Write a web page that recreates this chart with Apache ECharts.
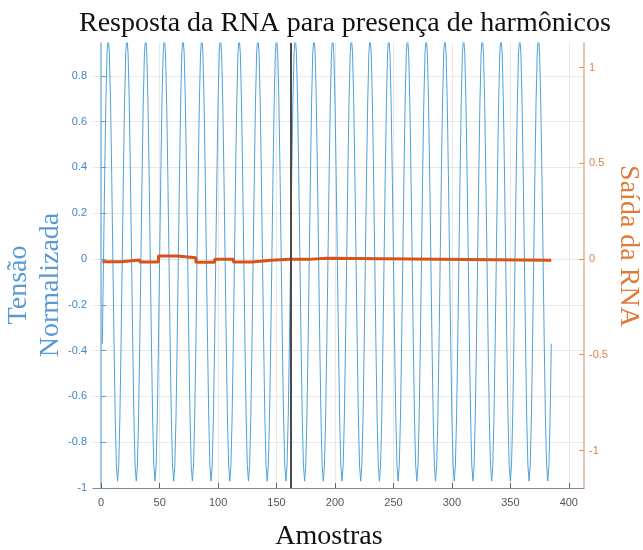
<!DOCTYPE html>
<html>
<head>
<meta charset="utf-8">
<title>Resposta da RNA</title>
<script src="https://cdn.jsdelivr.net/npm/echarts@6/dist/echarts.min.js"></script>
<style>
  html, body { margin: 0; padding: 0; background: #fff; }
  #chart { width: 643px; height: 550px; }
</style>
</head>
<body>
<div id="chart"></div>
<script>
// tensão normalizada, amostras 1..385 (16 amostras por ciclo)
const firstSample = 1;
const tensao = [
  -0.37, 0, 0.37, 0.69, 0.9, 0.97, 0.9, 0.69, 0.37, 0, -0.37, -0.69, -0.9, -0.97, -0.9, -0.69,
  -0.37, 0, 0.37, 0.69, 0.9, 0.97, 0.9, 0.69, 0.37, 0, -0.37, -0.69, -0.9, -0.97, -0.9, -0.69,
  -0.37, 0, 0.37, 0.69, 0.9, 0.97, 0.9, 0.69, 0.37, 0, -0.37, -0.69, -0.9, -0.97, -0.9, -0.69,
  -0.37, 0, 0.37, 0.69, 0.9, 0.97, 0.9, 0.69, 0.37, 0, -0.37, -0.69, -0.9, -0.97, -0.9, -0.69,
  -0.37, 0, 0.37, 0.69, 0.9, 0.97, 0.9, 0.69, 0.37, 0, -0.37, -0.69, -0.9, -0.97, -0.9, -0.69,
  -0.37, 0, 0.37, 0.69, 0.9, 0.97, 0.9, 0.69, 0.37, 0, -0.37, -0.69, -0.9, -0.97, -0.9, -0.69,
  -0.37, 0, 0.37, 0.69, 0.9, 0.97, 0.9, 0.69, 0.37, 0, -0.37, -0.69, -0.9, -0.97, -0.9, -0.69,
  -0.37, 0, 0.37, 0.69, 0.9, 0.97, 0.9, 0.69, 0.37, 0, -0.37, -0.69, -0.9, -0.97, -0.9, -0.69,
  -0.37, 0, 0.37, 0.69, 0.9, 0.97, 0.9, 0.69, 0.37, 0, -0.37, -0.69, -0.9, -0.97, -0.9, -0.69,
  -0.37, 0, 0.37, 0.69, 0.9, 0.97, 0.9, 0.69, 0.37, 0, -0.37, -0.69, -0.9, -0.97, -0.9, -0.69,
  -0.37, 0, 0.37, 0.69, 0.9, 0.97, 0.9, 0.69, 0.37, 0, -0.37, -0.69, -0.9, -0.97, -0.9, -0.69,
  -0.37, 0, 0.37, 0.69, 0.9, 0.97, 0.9, 0.69, 0.37, 0, -0.37, -0.69, -0.9, -0.97, -0.9, -0.69,
  -0.37, 0, 0.37, 0.69, 0.9, 0.97, 0.9, 0.69, 0.37, 0, -0.37, -0.69, -0.9, -0.97, -0.9, -0.69,
  -0.37, 0, 0.37, 0.69, 0.9, 0.97, 0.9, 0.69, 0.37, 0, -0.37, -0.69, -0.9, -0.97, -0.9, -0.69,
  -0.37, 0, 0.37, 0.69, 0.9, 0.97, 0.9, 0.69, 0.37, 0, -0.37, -0.69, -0.9, -0.97, -0.9, -0.69,
  -0.37, 0, 0.37, 0.69, 0.9, 0.97, 0.9, 0.69, 0.37, 0, -0.37, -0.69, -0.9, -0.97, -0.9, -0.69,
  -0.37, 0, 0.37, 0.69, 0.9, 0.97, 0.9, 0.69, 0.37, 0, -0.37, -0.69, -0.9, -0.97, -0.9, -0.69,
  -0.37, 0, 0.37, 0.69, 0.9, 0.97, 0.9, 0.69, 0.37, 0, -0.37, -0.69, -0.9, -0.97, -0.9, -0.69,
  -0.37, 0, 0.37, 0.69, 0.9, 0.97, 0.9, 0.69, 0.37, 0, -0.37, -0.69, -0.9, -0.97, -0.9, -0.69,
  -0.37, 0, 0.37, 0.69, 0.9, 0.97, 0.9, 0.69, 0.37, 0, -0.37, -0.69, -0.9, -0.97, -0.9, -0.69,
  -0.37, 0, 0.37, 0.69, 0.9, 0.97, 0.9, 0.69, 0.37, 0, -0.37, -0.69, -0.9, -0.97, -0.9, -0.69,
  -0.37, 0, 0.37, 0.69, 0.9, 0.97, 0.9, 0.69, 0.37, 0, -0.37, -0.69, -0.9, -0.97, -0.9, -0.69,
  -0.37, 0, 0.37, 0.69, 0.9, 0.97, 0.9, 0.69, 0.37, 0, -0.37, -0.69, -0.9, -0.97, -0.9, -0.69,
  -0.37, 0, 0.37, 0.69, 0.9, 0.97, 0.9, 0.69, 0.37, 0, -0.37, -0.69, -0.9, -0.97, -0.9, -0.69,
  -0.37
];

// saída da RNA: um valor por ciclo (amostra inicial de cada degrau)
const rnaSamples = [1, 17, 33, 49, 65, 81, 97, 113, 129, 145, 161, 177, 193, 385];
const rnaOutput = [-0.014, -0.005, -0.016, 0.016, 0.007, -0.017, -0.002, -0.016, -0.007, -0.002, -0.002, 0.004, -0.006, -0.006];

// início dos harmônicos
const markerSample = 162;

const xTicks = [0, 50, 100, 150, 200, 250, 300, 350, 400];
const yLeftTicks = [-1, -0.8, -0.6, -0.4, -0.2, 0, 0.2, 0.4, 0.6, 0.8];
const yRightTicks = [-1, -0.5, 0, 0.5, 1];

const serif = '"Liberation Serif", "DejaVu Serif", serif';
const sans = '"Liberation Sans", Arial, sans-serif';

const chart = echarts.init(document.getElementById('chart'));

chart.setOption({
  animation: false,
  title: {
    text: 'Resposta da RNA para presença de harmônicos',
    left: 74,
    top: 5,
    textStyle: { fontFamily: serif, fontSize: 28, fontWeight: 'normal', color: '#111' }
  },
  grid: { left: 93, right: 59, top: 43, bottom: 62 },
  xAxis: {
    type: 'value',
    min: -7,
    max: 413,
    axisLine: { show: true, onZero: false, lineStyle: { color: '#8a8a8a', width: 1 } },
    axisTick: { show: true, inside: true, length: 5, customValues: xTicks, lineStyle: { color: '#666' } },
    axisLabel: { customValues: xTicks, margin: 9, color: '#555', fontFamily: sans, fontSize: 11 },
    splitLine: { show: true, lineStyle: { color: '#e8e8e8', width: 1 } }
  },
  yAxis: [
    {
      type: 'value',
      min: -1,
      max: 0.943,
      position: 'left',
      axisLine: { show: true, lineStyle: { color: '#86b9e0', width: 1.5 } },
      axisTick: { show: true, inside: true, length: 5, customValues: yLeftTicks, lineStyle: { color: '#5b9bd5' } },
      axisLabel: { customValues: yLeftTicks, margin: 6, color: '#3f86c6', fontFamily: sans, fontSize: 11 },
      splitLine: { show: true, lineStyle: { color: '#e8e8e8', width: 1 } }
    },
    {
      type: 'value',
      min: -1.196,
      max: 1.128,
      position: 'right',
      axisLine: { show: true, lineStyle: { color: '#dcb49e', width: 1.5 } },
      axisTick: { show: true, inside: true, length: 5, customValues: yRightTicks, lineStyle: { color: '#d9916a' } },
      axisLabel: { customValues: yRightTicks, margin: 5, color: '#d9804a', fontFamily: sans, fontSize: 11 },
      splitLine: { show: false }
    }
  ],
  graphic: [
    {
      type: 'text',
      x: 35,
      y: 285,
      rotation: Math.PI / 2,
      style: {
        text: 'Tensão\nNormalizada',
        font: '28px ' + serif,
        fill: '#5b9bd5',
        lineHeight: 32,
        align: 'center', textAlign: 'center',
        verticalAlign: 'middle', textVerticalAlign: 'middle'
      }
    },
    {
      type: 'text',
      x: 628,
      y: 246,
      rotation: -Math.PI / 2,
      style: {
        text: 'Saída da RNA',
        font: '28px ' + serif,
        fill: '#e07b39',
        align: 'center', textAlign: 'center',
        verticalAlign: 'middle', textVerticalAlign: 'middle'
      }
    },
    {
      type: 'text',
      x: 329,
      y: 537,
      style: {
        text: 'Amostras',
        font: '28px ' + serif,
        fill: '#111',
        align: 'center', textAlign: 'center',
        verticalAlign: 'middle', textVerticalAlign: 'middle'
      }
    }
  ],
  series: [
    {
      name: 'Tensão Normalizada',
      type: 'line',
      yAxisIndex: 0,
      showSymbol: false,
      clip: true,
      lineStyle: { color: '#4fa2da', width: 1 },
      data: tensao.map((v, i) => [firstSample + i, v]),
      z: 2
    },
    {
      name: 'Saída da RNA',
      type: 'line',
      yAxisIndex: 1,
      step: 'end',
      showSymbol: false,
      lineStyle: { color: '#d95319', width: 3 },
      data: rnaSamples.map((s, i) => [s, rnaOutput[i]]),
      z: 3,
      markLine: {
        silent: true,
        symbol: 'none',
        label: { show: false },
        lineStyle: { color: '#4a4a4a', width: 2, type: 'solid' },
        data: [{ xAxis: markerSample }],
        z: 4
      }
    }
  ]
});
</script>
</body>
</html>
